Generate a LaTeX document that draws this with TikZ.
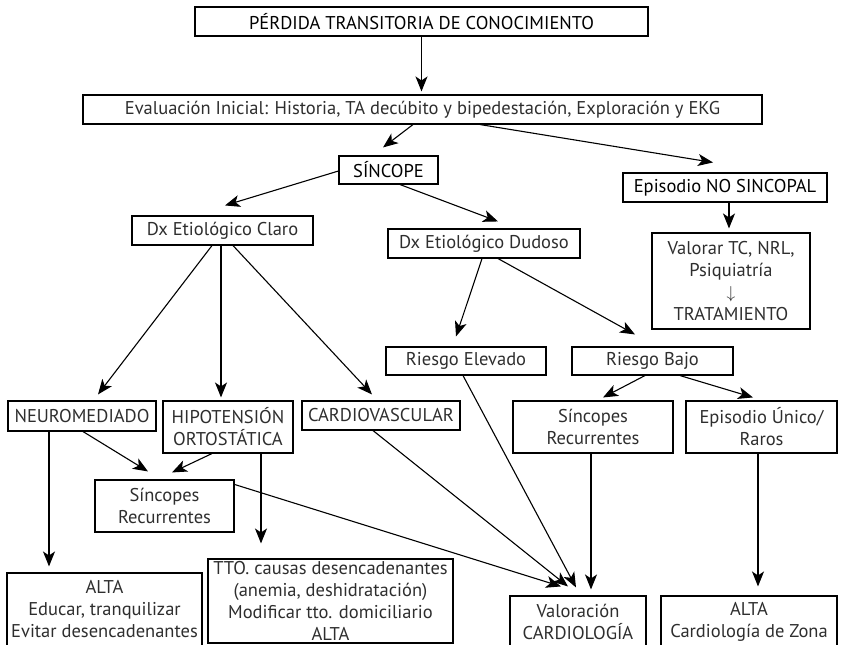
\documentclass[tikz,border=0pt]{standalone}
\usepackage{fontspec}
\setmainfont{PT Sans}
\usetikzlibrary{arrows.meta,calc}

\tikzset{
  box/.style={draw, line width=1.1pt, inner sep=0pt, align=center,
              text=black!82, font=\fontsize{18.5}{22}\selectfont},
  keybox/.style={box, text=black},
  arr/.style={line width=1.1pt, -{Stealth[length=15pt,width=12pt,inset=4pt]}},
}

\begin{document}
\begin{tikzpicture}[x=1pt,y=-1pt]
\useasboundingbox (0,0) rectangle (841,645);
\clip (0,0) rectangle (841,645);

% --- nodes ---
\node[keybox, minimum width=453, minimum height=29] (top) at (421.5,21.5)
  {PÉRDIDA TRANSITORIA DE CONOCIMIENTO};
\node[box, minimum width=679, minimum height=29] (eval) at (422.5,109.5)
  {Evaluación Inicial: Historia, TA decúbito y bipedestación, Exploración y EKG};
\node[keybox, minimum width=99, minimum height=28] (sinc) at (388.5,170) {SÍNCOPE};
\node[keybox, minimum width=204, minimum height=29] (nosinc) at (725,187.5) {Episodio NO SINCOPAL};
\node[box, minimum width=158, minimum height=96] (valorar) at (731,281)
  {Valorar TC, NRL,\\ Psiquiatría\\ $\downarrow$\\ TRATAMIENTO};
\node[box, minimum width=181, minimum height=29] (claro) at (222.5,230.5) {Dx Etiológico Claro};
\node[box, minimum width=192, minimum height=29] (dudoso) at (484,243.5) {Dx Etiológico Dudoso};
\node[box, minimum width=160, minimum height=28] (elevado) at (466,361) {Riesgo Elevado};
\node[box, minimum width=161, minimum height=28] (bajo) at (652.5,361) {Riesgo Bajo};
\node[box, minimum width=148, minimum height=30] (neuro) at (82,416) {NEUROMEDIADO};
\node[box, minimum width=130, minimum height=52] (hipo) at (228,427) {HIPOTENSIÓN\\ ORTOSTÁTICA};
\node[box, minimum width=158, minimum height=29] (cardio) at (381,415.5) {CARDIOVASCULAR};
\node[box, minimum width=160, minimum height=52] (recR) at (593,427) {Síncopes\\ Recurrentes};
\node[box, minimum width=151, minimum height=52] (unico) at (761.5,427) {Episodio Único/\\ Raros};
\node[box, minimum width=139, minimum height=52] (recL) at (164.5,506) {Síncopes\\ Recurrentes};
\node[box, minimum width=195, minimum height=73] (altaL) at (104.5,609.5)
  {ALTA\\ Educar, tranquilizar\\ Evitar desencadenantes};
\node[box, minimum width=245, minimum height=84] (tto) at (330.5,601)
  {TTO. causas desencadenantes\\ (anemia, deshidratación)\\ Modificar tto. domiciliario\\ ALTA};
\node[box, minimum width=136, minimum height=52] (valcard) at (578,622) {Valoración\\ CARDIOLOGÍA};
\node[box, minimum width=176, minimum height=52] (altaZ) at (749,622) {ALTA\\ Cardiología de Zona};

% --- connectors ---
\draw[arr] (top.south) -- ($(top.south |- eval.north)+(0,-3)$);
\draw[arr] ($(eval.south)+(-9.5,0)$) -- ($(sinc.north)+(-5.5,-8)$);
\draw[arr] ($(eval.south)+(57.5,0)$) -- ($(nosinc.north)+(-12,-10)$);
\draw[arr] ($(sinc.west)+(0,1)$) -- ($(claro.north)+(2.5,-10)$);
\draw[arr] ($(sinc.south)+(11.5,0)$) -- ($(dudoso.north)+(14,-7)$);
\draw[arr] ($(nosinc.south)+(4,0)$) -- ($(valorar.north)+(-2,-4)$);
\draw[arr] ($(claro.south)+(-10.5,0)$) -- ($(neuro.north)+(16,-6)$);
\draw[arr] ($(claro.south)+(-1.5,0)$) -- ($(hipo.north)+(-7,-3)$);
\draw[arr] ($(claro.south)+(10.5,0)$) -- ($(cardio.north)+(-9,-6)$);
\draw[arr] ($(dudoso.south)+(-2,0)$) -- ($(elevado.north)+(-10,-10)$);
\draw[arr] ($(dudoso.south)+(14,0)$) -- ($(bajo.north)+(-17.5,-12)$);
\draw[arr] ($(bajo.south)+(-7.5,0)$) -- ($(recR.north)+(10,-3)$);
\draw[arr] ($(bajo.south)+(27.5,0)$) -- ($(unico.north)+(-8.5,-3)$);
\draw[arr] ($(elevado.south)+(-3,0)$) -- ($(valcard.north)+(-2,-8)$);
\draw[arr] ($(cardio.south)+(-8,0)$) -- ($(valcard.north)+(-10,-9)$);
\draw[arr] ($(recL.north east)+(0,5)$) -- ($(valcard.north)+(-17,-9)$);
\draw[arr] ($(recR.south)+(-2,0)$) -- ($(valcard.north)+(13,-6)$);
\draw[arr] ($(unico.south)+(-3.5,0)$) -- ($(altaZ.north)+(9,-9)$);
\draw[arr] ($(neuro.south)+(-33,0)$) -- ($(altaL.north)+(-55.5,-6)$);
\draw[arr] ($(neuro.south)+(1,0)$) -- ($(recL.north)+(-16.5,-8)$);
\draw[arr] ($(hipo.south)+(-16,0)$) -- ($(recL.north)+(7.5,-7)$);
\draw[arr] ($(hipo.south)+(33,0)$) -- ($(tto.north)+(-69.5,-15)$);
\end{tikzpicture}
\end{document}
